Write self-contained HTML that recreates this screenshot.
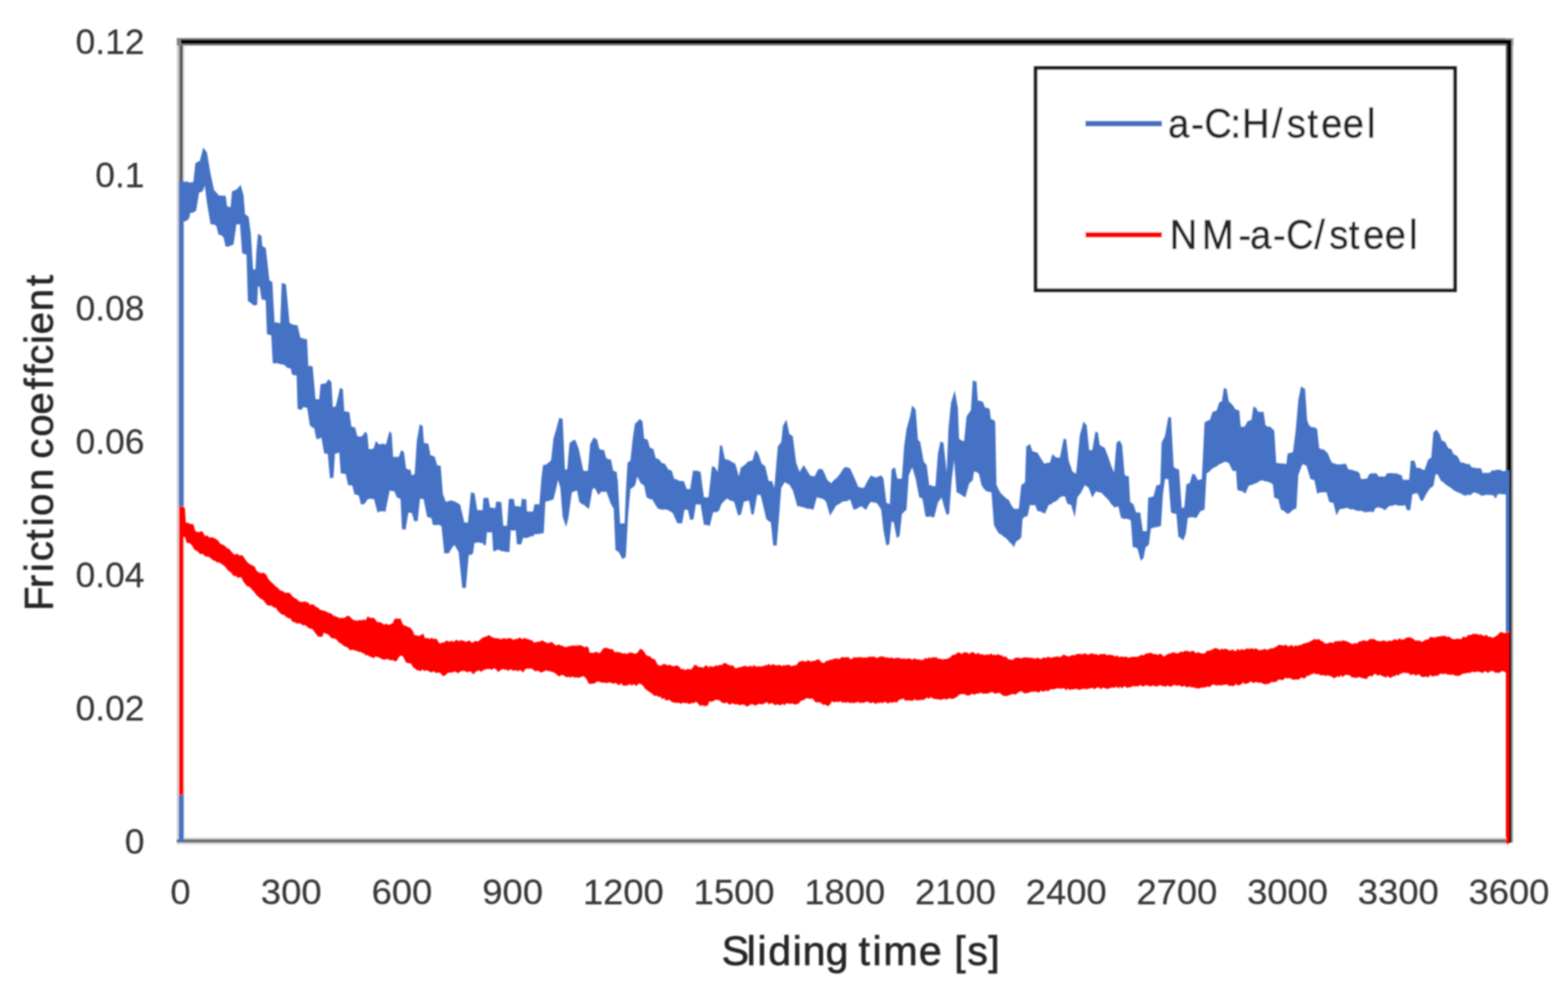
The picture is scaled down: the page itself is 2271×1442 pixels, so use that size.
<!DOCTYPE html>
<html><head><meta charset="utf-8"><title>Friction coefficient vs sliding time</title>
<style>
html,body{margin:0;padding:0;background:#fff;}
body{width:2271px;height:1442px;overflow:hidden;}
svg{display:block;}
text{font-family:"Liberation Sans",Arial,sans-serif;fill:#262626;stroke:#262626;stroke-width:0.9px;}
#y-ticks text,#x-ticks text{fill:#383838;stroke:#383838;stroke-width:0.3px;}
</style></head><body>
<svg width="2271" height="1442" viewBox="0 0 2271 1442">
<defs><filter id="soft" x="0" y="0" width="2271" height="1442" filterUnits="userSpaceOnUse"><feGaussianBlur stdDeviation="1.0"/></filter></defs>
<rect width="2271" height="1442" fill="#fff"/>
<g filter="url(#soft)">
<g id="frame">
<rect x="256" y="57" width="11" height="1163" fill="#d4d4d4"/>
<rect x="259" y="57" width="6" height="1163" fill="#8a8a8a"/>
<rect x="261.5" y="57" width="2.5" height="1163" fill="#3a3a3a"/>
<rect x="256" y="1212.5" width="1930" height="10" fill="#d8d8d8"/>
<rect x="256" y="1215" width="1930" height="5" fill="#707070"/>
<rect x="256" y="55" width="1936" height="11" fill="#858585"/>
<rect x="2181" y="55" width="10.5" height="1165" fill="#a8a8a8"/>
<rect x="2181" y="58" width="2.6" height="1162" fill="#5a5a5a"/>
<rect x="262" y="57.5" width="1927" height="6" fill="#050505"/>
<rect x="2183.2" y="57.5" width="6" height="1162.5" fill="#050505"/>
</g>
<g id="series-a-C-H">
<polygon fill="#4472c4" points="262.5,262.4 267.5,263.5 270.6,262.6 273.8,264.3 276.9,264.1 280,263.5 283,236.4 286.1,234.3 289.3,233.3 294.5,213.5 299.7,220.8 305,252 310,275 313.7,279.1 317.4,283.2 320.5,283.1 323.7,283.6 326.8,283.2 328.9,298.8 334,300 336,277 340.2,275.6 344.5,272.8 348.6,267.6 352.8,283.2 354.9,310.3 360,313.4 363.2,337.3 366.5,390 370,390 371.5,362.3 373.6,338.4 378.8,341.5 379.8,356 385,359.2 390.2,406 394.4,408 397.7,467 401.8,466.7 405.9,468.4 408,410.2 411.1,410.1 414.2,412.2 419.4,467.4 423.5,469.8 427.7,470.5 431,471.3 435.2,489.3 438.3,489.6 441.5,490.9 444.6,490.7 446.6,530.3 449.8,529.6 452.9,531.3 457,578.1 462.3,578.1 464.3,556.3 468,555.6 471.6,555.2 475.8,549 480,553.2 482,589.6 486.2,588.5 489.3,575.5 492.4,561.5 496.6,563.6 498.7,595.8 502.4,595.7 506,596.9 509,617.7 514.3,618.7 517.4,631.2 521,632.3 524.7,631.2 528.8,625 532,628.1 534,649.9 537.6,650.4 541.3,648.9 544.4,638.5 549.6,643.7 552.7,642.6 555.9,642.6 559,643.7 564.2,623.9 567.3,628.1 569.4,661.4 573.5,661.5 577.7,661.4 580.9,652 585,654.1 588.1,678 591.2,680.1 594.4,680.1 596.5,688.4 600.6,686.3 603.7,638.5 607.9,614.5 612.1,616.6 614.1,641.6 617.2,641.8 620.4,642.6 623.5,659.3 626.6,659.7 629.7,661.4 633.1,673.4 638.3,674.4 641.4,715 645.6,726.4 649.1,725.8 652.5,724.5 656,725.3 659.5,726.4 662.9,728.6 666.4,730.5 669.5,743.5 672.6,756.5 677.8,756.5 682,712.9 687.2,713.9 691.3,738.9 695.1,738.3 699,738.9 700,721.6 703.6,720.5 707.2,720.7 709.9,735.1 713.5,734.9 717.1,736 718.9,726.1 722.5,726.5 726.1,727 728.9,761.2 734.3,761.2 737,722.5 740.6,722 744.2,722.5 746,733.3 750,732.6 754.1,734.2 755.9,721.6 759,722.9 762.2,722.5 763.1,740.5 766.1,740.6 769.1,740.8 772.1,740.5 773.9,730.6 777.5,729.8 781.2,730.6 784.1,693.1 786.6,673.2 790,673.1 793.3,670.7 798.2,666.5 801.6,634.9 805.8,620.8 809.9,605 814.9,606.6 818.2,679.8 821.5,679.8 824.9,641.6 829,638.2 833.2,636.6 838.2,649.9 841.5,665.3 844.8,681.5 848.1,682 851.5,681.5 854.8,643.2 859.8,633.2 864.8,636.6 868.1,649.9 871.5,651.2 874.8,651.5 878.1,663.2 881.5,665.1 884.8,664.9 888.1,681.5 893.1,683.2 894.8,696.5 898.1,758 901.4,757.8 904.7,758 906.4,713.1 908.9,669.9 913.1,666.5 916.4,634.9 919.7,613.3 923,610.7 926.4,606.6 930.5,610 933,634.9 938,636.6 941.3,648.2 946.3,649.9 949.7,663.2 954.7,664.9 958,669.9 963,671.5 968,679.8 973,681.5 976.3,693.1 981.3,694.8 984.6,696.5 990.4,696.5 994.6,708.1 999.6,708.1 1003.7,681.5 1009.6,681.5 1014.6,683.2 1019.5,719.8 1022.9,720.2 1026.2,719.8 1031.2,674.8 1035.4,676.5 1039.5,683.2 1042.8,644.9 1045.8,644.9 1050,664.9 1053.3,665.2 1056.6,666.5 1060.8,669.2 1065,671.5 1070,689.8 1073.3,676.5 1076.6,674.7 1080,671.8 1083.3,668.2 1086.6,667.4 1089.9,666.5 1094.1,651.5 1098.2,656.5 1103.2,671.5 1108.2,674.8 1113.2,696.5 1118.2,696.5 1121.5,706.5 1126.5,646.6 1131.5,639.9 1134,616.6 1139,607.5 1143.2,628.3 1148.2,631.6 1153.1,669.9 1158.1,683.2 1164,673.2 1168.1,679.8 1173.1,688.2 1176.4,689.2 1179.8,689.8 1184.8,679.8 1188.1,678.7 1191.4,679.8 1194.8,686.7 1198.1,694.8 1203.9,699.8 1208.1,694.8 1212.2,691.4 1216.4,686.5 1219.7,681.3 1223,676.5 1227.2,676.6 1231.3,678.2 1234.7,685.8 1238,693.1 1243,704.8 1247.2,706.1 1251.3,706.5 1256.3,696.5 1261.3,688.2 1265.4,690.3 1269.6,691.5 1272.9,689.5 1276.3,688.2 1279.6,693.1 1283.8,728.1 1288.8,729.8 1291.3,679.8 1296.2,676.5 1299.6,693.1 1302.9,693 1306.2,693.1 1309.5,646.6 1312.9,621.6 1317.9,603.3 1321.2,586.7 1326.2,593.3 1329.5,636.6 1332.8,639.9 1337.8,668.2 1342.2,673.4 1345.8,702.2 1348.8,702.8 1351.8,704.1 1354.8,704 1358.4,657.2 1362,639.2 1366.5,641 1371.1,684.2 1373.8,619.3 1377.4,583.3 1382.8,565.2 1387.3,590.5 1389.1,635.5 1392.7,637.4 1396.3,639.2 1399.9,603.1 1403.1,598.3 1406.2,594.1 1408.9,550.8 1414.3,552.6 1416.1,579.7 1419.7,580.6 1423.3,581.5 1426.9,590.5 1430.1,590.3 1433.3,592.3 1435.1,606.7 1438.2,607.4 1441.4,610.3 1443.2,702.2 1448.6,713.1 1454,718.5 1457.6,721.7 1461.2,723.9 1464.8,731.4 1468.4,736.5 1472,736.7 1475.6,736.5 1479.2,702.2 1484.6,698.6 1486.4,646.4 1491.8,642.8 1495.4,653.6 1499.1,654.2 1502.7,655.4 1508.1,664.4 1512.6,671.6 1516.7,669.9 1520.7,669.8 1524.3,657.2 1529.7,662.6 1535.1,662.6 1540.5,635.5 1544.1,635.5 1547.7,666.2 1553.1,682.4 1558.5,686 1564,630.1 1569.4,610.3 1573.9,615.7 1577.5,651.8 1582,651.8 1586.5,624.7 1590.1,626.5 1592.8,644.6 1596.4,646.4 1600,648.2 1605.4,662.6 1609.5,674.6 1613.5,684.2 1617.1,641 1621.6,637.4 1625.2,644.6 1628.9,687.8 1631.9,689.3 1634.9,689.5 1636.8,726.4 1641.7,730.3 1645.5,742 1651.4,742 1655.2,769.1 1661.1,769.1 1663,720.6 1666.9,719.7 1670.8,718.6 1674.7,703.1 1680.5,701.2 1682.4,641 1687.3,631.3 1692.1,604.1 1696,604.1 1699.9,675.9 1703.8,678.7 1707.7,679.8 1711.6,736.1 1715.4,734.2 1718.3,701.2 1723.2,699.2 1727.1,685.6 1731,687.6 1734.9,695.3 1740.7,693.4 1744.6,611.8 1748.4,609.3 1752.3,608 1756.2,596.3 1762,594.4 1765.9,582.7 1769.8,580.8 1772.7,561.4 1776.6,563.3 1779.5,580.8 1785.3,586.6 1789.2,592.4 1795,594.4 1797,617.7 1802.8,617.7 1806.7,609.9 1812.5,608 1815.4,588.5 1819.3,590.5 1822.2,596.3 1826.1,596.3 1830,596.3 1832.9,615.7 1836.3,617.8 1839.7,617.7 1845.5,623.5 1848.4,670.1 1852.1,670.8 1855.7,671 1859.3,671 1863,672 1865,656.5 1868.8,655.7 1872.7,654.6 1876.6,623.5 1880.5,578.8 1884.4,559.4 1890.2,563.3 1893.1,608 1896,615.7 1899.9,618.8 1903.8,618.4 1907.7,621.6 1910.6,648.7 1914,650.4 1917.4,650.7 1923.2,656.5 1928,668.5 1931.1,670.8 1934.2,671.6 1937.2,672.5 1940.3,672.2 1943.3,672.3 1946.4,671.6 1949.4,671.6 1952.5,679.2 1956.3,680.1 1960.1,680.7 1963.2,682.1 1966.2,682.7 1969.3,685.3 1970.8,692.9 1973.8,693.8 1976.9,693.1 1979.9,692.9 1983,686.8 1986,685.3 1989.1,685.3 1993.7,685.3 1996.7,689.9 1999.8,689.9 2002.8,689.9 2005.9,689.9 2008.9,685.3 2012.4,685 2015.8,684.9 2019.2,685.4 2022.7,685.3 2026.5,687.1 2030.3,688.3 2031.8,694.5 2034.9,694.8 2037.9,694.4 2041,694.5 2043.3,667 2048.6,667 2051.7,677.7 2055.5,677.3 2059.3,679.2 2063.1,680.7 2068.4,665.5 2073,662.4 2076.1,625.8 2080.7,622 2085.2,628.8 2088.3,638 2092.9,639.5 2097.4,648.7 2102,650.2 2105.1,657.8 2108.1,658.7 2111.2,660.9 2115.8,670 2118.9,669.6 2121.9,671 2124.9,672.1 2128,671.6 2131,676.1 2134.4,677.2 2137.8,677.6 2141.3,678.1 2144.7,677.7 2147.8,685.3 2151.4,684.2 2154.9,685.1 2158.5,683.8 2161.5,680.7 2164.6,681.3 2167.8,680.1 2170.9,680.2 2174.1,680.4 2177.2,682.4 2180.4,681.4 2183.5,682.2 2183.5,715.8 2179.9,715.7 2176.3,715.8 2172.8,715.1 2169.2,715.8 2166.1,721.9 2163.1,717.3 2160,716.7 2157,716.5 2153.9,716.3 2150.8,716.7 2147.8,717.8 2144.7,717.3 2141.7,714.9 2138.6,714.1 2135.6,712.8 2132.6,713.9 2129.5,717.3 2126.4,716.1 2123.4,717.4 2120.3,717.3 2117.3,715.6 2114.2,713.7 2111.2,712.8 2108.1,711.3 2105.1,709.5 2102,706.7 2099,705 2095.9,702.9 2092.9,700.6 2089.9,697.7 2086.8,696 2082.2,686.8 2079.1,686.8 2076.1,703.6 2071.5,706.7 2068.4,711.1 2065.4,715.8 2060.8,725 2057.8,725 2053.2,714.3 2049.4,714.4 2045.6,715.8 2042.5,738.7 2037.9,738.7 2034.9,731.1 2031.8,732.3 2028.8,732.1 2025.7,732.3 2022.7,731.1 2019.6,731.1 2016.6,732.4 2013.5,732.1 2010.5,734.1 2005.9,738.7 2001.3,735.7 1998.2,734.9 1995.2,734.6 1992.1,735.7 1989.1,741.8 1985.5,740.7 1982,740.9 1978.4,741.8 1975.3,741.3 1972.3,739.4 1969.2,739.7 1966.2,739.6 1963.1,738.7 1959.6,737.1 1956,737.8 1952.5,735.7 1949.5,735.2 1946.4,736.5 1943.3,736.6 1940.3,737.2 1935.7,746.3 1931.1,728 1928.1,727.4 1925.1,726.4 1921.3,712.8 1915.4,712.8 1911.6,712.9 1907.7,714.8 1903.8,695.3 1898,693.4 1892.1,674 1886.3,672 1880.5,687.6 1877.6,736.1 1872.7,738.1 1868.8,741.9 1865,743.9 1861.7,741.8 1858.5,739.1 1855.2,738.1 1851.4,722.5 1845.5,720.6 1843.6,701.2 1839.7,698.8 1835.8,697.3 1831.9,696.7 1828.1,695.3 1824.2,696.6 1820.3,699.2 1816.4,700.4 1812.5,702.3 1808.6,703.1 1803.8,714.8 1798.9,710.9 1795.5,710.8 1792.1,708.9 1790.2,681.7 1785.3,681.7 1779.5,670.1 1773.7,668.2 1769.8,670.7 1765.9,672 1762.7,674.9 1759.4,676.5 1756.2,677.9 1751.8,682.4 1747.5,685.6 1744.6,738.1 1738.7,740 1732.9,749.7 1729.8,749.6 1726.6,748.6 1723.5,749.3 1720.3,749.7 1717.4,773 1713.5,782.7 1710.1,778.9 1706.7,776.9 1703.8,743.9 1699.9,743.5 1696,741.9 1692.1,693.4 1687.3,693.4 1684.4,714.8 1681.5,761.4 1678.1,762.6 1674.7,763.3 1670.8,763.9 1666.9,765.2 1664,788.5 1659.1,792.4 1656.2,808 1652.3,811.8 1647.5,794.4 1644.1,792.3 1640.7,792.4 1637.8,753.6 1633.9,751.5 1630,751 1626.7,751.2 1623.4,749.1 1619.8,732.9 1614.4,734.7 1609,729.3 1605.4,723.7 1601.8,720.3 1598.2,716.4 1594.6,713.1 1591,712.7 1587.4,711.3 1582,720.3 1576.6,705.9 1571.2,702.2 1565.8,713.1 1560.3,720.3 1556.7,749.1 1551.3,731.1 1545.9,729.3 1542.3,718.5 1538.7,718.6 1535.1,720.3 1529.7,725.7 1526.1,726.7 1522.5,730.1 1518.9,731.1 1513.5,743.7 1509.9,741.9 1506.3,740.2 1502.7,740.1 1499.1,731.1 1495.4,731.7 1491.8,731.1 1488.2,747.3 1484.6,748 1481,750.9 1479.2,778 1475.6,781.8 1472,783.4 1468.4,792.4 1465.4,787.8 1462.4,785.6 1459.4,781.6 1456.2,778.6 1453.1,776.8 1450,773.7 1446.8,772.6 1443.2,766.8 1439.6,759.9 1436,713.1 1432.3,712 1428.7,711.3 1425.1,707.7 1421.5,702.2 1417.9,686 1414.3,683.5 1410.7,682.4 1408.9,695 1403.5,700.4 1398.1,720.3 1392.7,716.7 1389.1,714.3 1385.5,713.1 1381.9,666.2 1378.3,695 1374.7,743.7 1371.1,745.5 1367.4,733.7 1363.8,720.3 1358.4,727.5 1353,749.1 1349.8,748.7 1346.7,747.3 1343.6,748.7 1340.4,747.3 1336,722 1331.2,719.8 1326.2,693.1 1321.2,676.5 1316.2,688.2 1312.9,738.1 1309.6,740.7 1306.2,744.7 1302.9,776.3 1298.7,778.8 1294.6,756.4 1291.3,754.7 1287.9,788 1283.8,789.7 1279.6,768 1276.3,738.1 1272.9,732.6 1269.6,728.1 1265.4,727.6 1261.3,726.4 1257.9,731.2 1254.6,738.1 1251.3,736.2 1248,733.1 1244.7,734 1241.3,736.4 1236.3,738.1 1231.3,723.1 1227.4,725.2 1223.6,725.8 1219.7,726.4 1215.6,729.7 1211.4,731.4 1206.4,739.7 1202.2,746.4 1196.4,726.4 1193.1,722.9 1189.7,721.4 1186.4,720.9 1183.1,719.8 1178.1,738.1 1173.1,736.4 1168.9,736.6 1164.8,734.7 1161.5,734.2 1158.1,732.9 1154.8,733.1 1151.5,721 1148.2,709.8 1143.2,701.5 1139.8,700 1136.5,698.1 1131.5,706.5 1128.2,749.7 1124.9,789.7 1119.9,789.7 1116.5,756.4 1113.2,754.3 1109.9,751.4 1105.8,733.9 1101.6,716.4 1096.6,716.4 1091.6,744.7 1088.3,744.7 1084.9,724.8 1081.2,725.6 1077.4,726.4 1073.3,744.7 1069.1,746.4 1063.3,726.4 1060,725.2 1056.6,724.2 1053.3,721.4 1049.2,725.1 1045,729.8 1041.2,739.7 1037.1,741.5 1032.9,741.4 1027.9,761.4 1023.7,760 1019.5,759.7 1014.6,729.8 1011.2,730.8 1007.9,729.8 1004.6,751.4 999.6,753 996.3,738.1 991.3,738.1 987.9,758 984.6,757.2 981.3,758 978,751 974.6,743.1 970.5,740.2 966.3,738.1 963,737.4 959.6,738.1 956.3,737.2 953,736.4 948.9,730.3 944.7,723.1 940.5,722.5 936.3,719.8 933,703.1 928,699.8 923,689.8 919.7,703.1 916.4,705.8 913.1,708.1 909.7,746.4 906.4,806.3 901.4,809.6 896.4,799.6 891.4,796.3 888.9,736.4 884.8,729.8 881.5,720.5 878.1,711.4 874.8,712.4 871.5,711.4 866.5,716.4 861.5,706.5 858.1,708.1 853.2,736.4 849.7,734.8 846.1,731 842.5,729.7 839,726.4 835.7,709.8 832,711.5 828.2,713.1 823.2,749.7 819.9,763 814.9,748.1 811.6,706.5 808.2,694.8 804.9,710 801.6,723.1 797.7,724.2 793.8,725.4 789.9,726.4 787.5,772.1 784.3,772.2 781.1,773.1 778,773.4 774.8,773 772.1,776.6 768.5,776.2 764.9,778.6 761.3,779.1 757.7,778.4 755,788.3 751.9,787.9 748.7,788.3 746.9,767.5 743.3,768.2 739.7,767.5 737.9,799.1 733.8,799.3 729.8,798.2 725.7,797.8 721.6,795.5 718,797.4 714.4,798.2 712.6,770.3 709,771 705.4,770.3 703.6,789.2 700,789.2 699.7,785.7 696.6,786.6 693.5,784.9 690.3,786.1 687.2,785.7 685.1,801.3 682,803.5 678.9,803.3 674.7,851.2 669.5,851.2 664.3,799.2 661.2,794 658.1,788.8 654,794.2 649.8,801.3 646.6,800.9 643.5,801.3 639.4,761.7 636.3,760.1 633.1,760.1 630,760.3 626.9,759.7 624.8,750.3 621.7,749.3 618.6,748.2 613.4,722.2 608.2,722.2 605,754.5 599.8,754.5 596.7,743 591.5,742 587.4,767 582.2,765.9 580.1,722.2 574.9,720.2 570.7,710.8 567.6,711.2 564.5,709.8 561.4,725.1 558.2,740.9 554.1,739.9 550.5,740.5 546.8,742 541.6,722.2 538.5,722.5 535.3,721.8 532.2,723.3 528.1,729.5 522.9,730.5 519.8,718.1 516.6,715.9 513.5,716 510.4,703.5 507.3,702.4 504.2,702.5 500.7,686.3 497.1,685.7 493.5,685.3 491.4,655.1 488.2,656.3 485.1,657.2 483,691.5 477.9,692.6 474.7,657.2 469.5,656.2 465.4,633.3 461.8,635.4 458.1,635.4 455,619.7 451.9,618.8 448.7,615.6 444.9,590.6 439.3,589.2 436.6,593.4 431,592 429.6,543.4 426.1,543.2 422.7,542 421.3,533.7 415.8,532.3 411.6,528.2 408.3,527.4 405,526.9 401.6,525.7 398.3,526.2 395,525.4 392.9,485.2 389.8,484.8 386.6,483.8 384.8,434.8 378.9,433.6 376,415 373.5,414.8 372.5,441 368.4,442.4 365.3,440.5 362.1,437.7 359,436 357,368.5 353.9,367.9 350.7,366.5 347.6,324.8 342.4,324.8 338.2,354 334.4,355.6 330.6,356.9 326.8,357.1 323.7,343.6 320,340.5 316.4,339.4 313.3,327 309.1,324.8 305,324.8 299.7,293.6 296.6,268.7 293.5,277 288.3,279 284.1,305 280,307.7 275.8,308.2 273.7,316.5 270,319.7 266.4,320.7 262,320"/>
<rect x="259" y="262" width="7" height="958" fill="#4472c4"/>
<rect x="2181" y="681" width="5" height="539" fill="#4472c4"/>
</g>
<g id="series-NM-a-C">
<polygon fill="#ff0000" points="263,733.3 267.7,734.7 269.1,756.9 271.9,756.6 274.6,758.4 277.4,758.5 280.2,759.6 283,769.3 285.8,770 288.6,770.5 291.3,768.8 294.1,770.7 296.9,776.3 300.1,775 303.4,778.4 306.6,777.7 309.8,778.7 313.1,780.4 316.3,783.2 319.8,787.8 323.2,788.8 326,790.5 328.7,793.7 331.5,794.3 334.9,798.2 338.3,802.2 340.8,803 343.3,801.5 345.8,803.5 348.3,804.6 350.8,803.6 354.2,808.5 357.7,813.3 360.5,816 363.3,817.6 366.1,818.8 368.9,820.5 371.6,826.2 374.4,828.5 377.2,829.7 379.9,829.5 382.7,829.4 385.5,832 388.9,838.5 392.4,842.4 395.6,845.1 398.9,848.7 402.1,850.7 404.9,853.9 407.6,855.2 410.4,856.3 413.7,858.7 416.9,857.8 420.2,859.1 423.6,863.6 427.1,866 429.9,867.2 432.6,870.3 435.4,871.5 438.2,871.5 441,870.8 443.7,871.6 446.5,872.6 449.3,876 452,874.8 454.8,875.7 457.6,878.5 460.3,879.6 463.1,882.6 465.9,883.6 468.7,884.1 471.5,884.9 474.2,886.6 477,887.6 479.8,888.2 483,891.5 486.3,892.5 489.5,893.7 492.3,895 495,894.5 497.8,894.8 500.6,893.4 503.3,891.3 506.1,892.3 510.3,896.5 513.1,898 515.8,898.6 518.6,898.6 521.4,897.5 524.2,898.3 526.9,896.7 529.7,897.9 532.5,892.3 535.7,894.4 539,894.4 542.2,895.1 546.4,900.7 549.8,900.6 553.3,902.1 556.1,904.8 559.3,902.8 562.6,905.1 565.8,903.4 568.6,902.4 571.3,896.4 574.1,895.1 576.9,896.2 579.7,895.1 583.8,904.8 587.2,905.9 590.7,907.6 594.2,909.1 597.7,913.1 600.5,920.1 603.3,919.4 606,921.1 608.8,920.1 612.9,917.3 615.7,924.2 620,923.6 622.6,925.5 625.3,923 627.9,925.6 630.6,924 633.2,926.2 635.9,930.9 638.5,931.5 641.2,929.8 643.8,930.2 646.4,926.9 649,928.4 651.7,929 654.3,927.4 657,929.4 659.6,927.1 662.2,926.4 664.9,928.5 667.5,926.6 670.2,927.4 672.8,928.3 675.4,929.2 678.1,927.7 680.7,927.5 683.4,930.7 686,929.5 688.6,927.7 691.3,928.9 694,927.5 696.6,924.9 699.6,923.1 702.5,922.1 705.5,921 708.5,919.6 711.8,922.1 715.1,923.6 717.7,924.1 720.4,924.1 723,924.4 725.7,925.7 728.3,924.3 730.9,924.1 733.6,925.3 736.2,923.7 738.9,924.1 741.5,924.9 744.1,926.6 746.8,925 749.4,925.1 752.1,923.1 754.7,924.6 757.4,925.2 760,923.2 762.7,925.3 765.3,924.9 767.9,927.1 770.6,926.8 773.2,930.2 775.8,930.1 778.5,929 781.1,929.3 783.8,927.6 786.4,927.6 789,929.6 791.7,930.2 794.5,931.6 797.4,929.6 800.2,930.3 803,933.1 805.8,934.7 808.7,932.7 811.5,934.2 814.8,935.3 818.1,936.8 820.9,936.8 823.8,935.4 826.6,935.2 829.5,934.6 832.3,934.5 835.2,934.9 838,934.2 840.9,934.3 843.8,935.3 846.7,937.5 849.6,935.6 852.5,938.1 853.8,944.7 856.4,944.9 859.1,945.5 861.8,944 864.4,943.7 867.1,945.8 869.7,944.7 873.6,938.8 876.2,938 878.9,937.9 881.5,938.9 884.2,940 886.8,939.4 890.8,944.7 893.5,943.4 896.3,944.4 899,944.6 901.8,946.5 904.5,945.3 907.3,946.9 910,945.8 912.6,944.5 915.3,944.9 917.9,945.9 920.6,946.6 923.2,945.1 927.2,939.2 931.1,941.1 933.8,944.9 936.4,949.1 939,949.6 941.7,950.6 944.3,953.5 947,953.7 949.6,956.3 952.3,962.3 955.1,963.4 958,963.5 960.8,961.2 963.7,961.5 966.5,963.4 969.4,962.3 972.3,963.5 975.2,964.7 978.2,963.7 981.1,963.6 984,965.6 986.6,968.9 989.5,968.3 992.4,970.2 995.3,968.4 998.2,968.8 1001.1,969.5 1003.8,965.6 1006.4,962.3 1009.7,964 1013,966.2 1015.6,965.6 1018.3,967.1 1021,964 1023.6,963.2 1026.2,966.2 1028.9,964.3 1031.5,965.3 1034.2,965.3 1036.8,962.9 1039.5,964.3 1042.1,962.3 1045.2,963.2 1048.2,960 1051.3,960.3 1054,962 1056.6,963.2 1059.2,963.4 1061.9,963.6 1064.6,967.6 1067.4,967.2 1070.3,965.9 1073.2,965.7 1076,964.8 1078.8,963.8 1081.7,964.9 1084.4,965 1087,963.7 1089.7,965.4 1092.3,962.5 1095,965.4 1097.6,964.4 1100.2,965 1102.9,964.7 1105.5,964.5 1108.2,962.9 1110.8,963.2 1113.5,961.1 1116.1,963.8 1118.8,961.7 1121.4,962.2 1124,963.5 1126.7,963 1129.3,962.6 1132,964.5 1134.6,962.9 1137.4,963.4 1140.3,962.6 1143.2,962.4 1146,964.7 1148.8,963.4 1151.7,963.6 1154.3,962 1157,958.3 1159.6,957.4 1162.3,956.6 1164.9,957.4 1167.6,958.1 1170.2,955.5 1172.8,957.4 1175.5,957.5 1178.1,956.8 1180.8,956.5 1183.4,955 1186.1,954.4 1188.7,957.8 1191.3,959.8 1194,959.6 1196.8,956.8 1199.6,956.4 1202.3,955.2 1205.1,955 1207.9,953.7 1210.5,953.3 1213.2,953.4 1215.8,954.3 1218.5,951.4 1221.1,951.5 1223.7,951.7 1226.4,951.5 1229,951.2 1231.7,954.4 1234.3,953.8 1237,950.9 1239.6,952.3 1242.2,951.5 1244.9,951.4 1247.5,951.4 1250.2,952.3 1252.8,951.7 1255.3,952 1257.9,951.2 1260.4,950.6 1263,951.1 1265.5,950.3 1268.1,951.9 1270.6,952.5 1273.2,951.3 1275.7,950.2 1278.3,950.5 1280.8,951.2 1283.4,952.1 1285.9,951.7 1288.5,952.9 1291,951.6 1293.6,953.3 1296.2,952.9 1298.7,952.4 1301.3,952.3 1303.9,953 1306.4,953.9 1309,953.1 1311.6,954.2 1314.1,953.6 1316.7,953 1319.3,954.2 1321.8,955 1324.4,952.9 1327,954.4 1329.5,954.5 1332.1,955 1334.7,955.7 1337.4,955.3 1340,952.6 1342.7,953.8 1345.3,951.7 1347.9,952.9 1350.6,951.2 1353.2,952.2 1355.9,951.1 1358.5,953.8 1361.1,953.5 1363.8,954.5 1366.4,954.4 1369.1,954.1 1371.7,953.7 1374.3,953.1 1377,951 1379.6,947.9 1382.3,948.2 1384.9,946.4 1387.6,944.6 1390.2,945 1392.9,947.2 1395.5,944.5 1398.2,944.6 1400.8,944.6 1403.5,947.3 1406.1,944.8 1408.8,944.1 1411.4,945.8 1414,947.2 1416.7,944.8 1419.3,947.6 1422,947.1 1424.6,947.9 1427.2,948.5 1429.9,947.3 1432.5,948.3 1435.2,945.7 1437.8,948.5 1440.4,947.7 1443.1,948.7 1445.7,946.6 1448.4,949.1 1451,948.4 1453.7,951.6 1456.3,950.1 1458.9,952.7 1461.6,955 1464.2,954.8 1466.9,955.4 1469.5,952.8 1472.2,952.2 1474.8,952 1477.4,952.9 1480.1,953 1482.7,951.7 1485.6,951.7 1488.5,951.9 1491.3,952.3 1494.2,952.5 1497.1,953.1 1500,953.7 1502.5,951.9 1505,953.1 1507.5,954.4 1510,952.4 1512.6,951.8 1515.2,952.8 1517.8,950.5 1520.4,952.1 1523,952.1 1525.6,951.6 1528.3,950.8 1530.9,950.4 1533.5,950.8 1536.1,951.4 1538.7,948.5 1541.3,948.1 1543.9,949.3 1546.4,950 1549,950.4 1551.5,948.7 1554,948.2 1556.6,949 1559.1,946.8 1561.7,946.9 1564.2,946.4 1566.7,947.6 1569.3,946.4 1571.8,945.9 1574.3,947.3 1576.9,948.1 1579.4,946.2 1582,945.7 1584.6,947.4 1587.2,946.6 1589.8,948.5 1592.4,947.7 1595,946.8 1597.6,946.9 1600.2,946.5 1602.8,948.4 1605.3,948.3 1607.9,947.7 1610.5,948.7 1613.1,948.8 1615.7,950.7 1618.3,948.6 1620.9,951.9 1623.5,950.3 1626.1,951 1628.7,950.9 1631.3,950.8 1633.8,952.1 1636.4,952.1 1639,951.1 1641.5,950.8 1644.1,950.9 1646.7,950.9 1649.2,950.6 1651.8,948.2 1654.4,948.6 1656.9,948.6 1659.5,946.2 1662.2,946.1 1664.9,945.2 1667.6,945.2 1670.3,947 1673,946.8 1675.7,947.9 1678.4,947.5 1681.1,946.2 1685.7,950.9 1688.8,948.4 1691.9,946.6 1695,946.2 1697.6,944.9 1700.1,944.2 1702.7,945.7 1705.3,945.8 1707.8,945.5 1710.4,942.8 1713,944.6 1715.5,942.2 1718.1,942.4 1720.8,942.5 1723.6,944.1 1726.3,942.2 1729,942.6 1731.8,945.7 1734.5,944.2 1737.2,944.8 1740,946.1 1742.7,946.2 1745.3,945.7 1748,942.2 1750.6,942.3 1753.3,941.6 1755.9,940.6 1758.6,938.6 1761.2,938.5 1763.9,939.2 1766.6,940.9 1769.3,939.3 1772,940.2 1774.7,939.1 1777.4,940 1780.1,941.8 1782.8,941.6 1785.4,939.9 1787.9,942.5 1790.5,942.3 1793.1,939.1 1795.6,941.9 1798.2,939.6 1800.8,940.8 1803.3,940.5 1805.9,938.5 1808.5,939.6 1811,939.3 1813.6,938.5 1816.3,939.9 1818.9,938.3 1821.6,940.4 1824.3,941.4 1827,940.7 1829.7,940.5 1832.3,939.3 1835,941 1837.8,939.9 1840.5,938.4 1843.3,938.7 1846.1,937.5 1848.9,936.1 1851.6,933.7 1854.4,933.8 1857.1,934.5 1859.8,934.6 1862.6,933.2 1865.3,935.9 1868,935.2 1870.7,933.5 1873.5,936.6 1876.2,933.9 1878.9,935.4 1881.6,933.7 1884.3,934 1887,932.1 1889.5,931.6 1892.1,930.7 1894.6,930.2 1897.1,928.7 1899.7,927.4 1902.2,926.1 1904.7,924.9 1907.3,926.4 1909.8,924.8 1912.7,927.5 1915.5,928.6 1918.3,931.1 1921.2,932.1 1923.7,931 1926.3,930.2 1928.8,930 1931.3,931.3 1933.9,927.7 1936.4,928.9 1938.9,927.4 1941.5,928.7 1944,927.2 1946.7,927.5 1949.4,928.2 1952.2,929.3 1954.9,930.6 1957.6,932.3 1960.3,932.1 1962.9,930.9 1965.5,932 1968.1,928.8 1970.7,928.7 1973.3,927.4 1976,926.8 1978.6,928.6 1981.2,927.7 1983.8,925.1 1986.4,925.6 1988.9,924.8 1991.5,926 1994,927.6 1996.5,928.2 1999.1,928.3 2001.6,928.1 2004.1,926.9 2006.7,928.2 2009.2,928.9 2011.7,927.3 2014.2,928 2016.7,927.6 2019.2,925.8 2021.7,925.5 2024.2,926.9 2026.8,923.7 2029.3,926 2031.8,925.8 2034.3,925.5 2036.8,923 2039.3,923.1 2041.8,922.4 2044.5,923.8 2047.2,925 2049.9,927.4 2052.7,927.4 2055.4,927.1 2058.1,928.9 2060.8,929.1 2063.5,926.7 2066.2,926 2069,925.4 2071.7,921.7 2074.4,922.4 2077.1,923.1 2079.8,922.4 2082.6,921.5 2085.3,921.4 2088,920.8 2090.7,920.7 2093.4,920.4 2096.1,922.4 2098.8,921.5 2101.6,924 2104.3,925.3 2107,925.6 2109.5,924.8 2112,924.6 2114.5,925.4 2117,924.5 2119.5,921.2 2122,922.9 2124.5,921.7 2127,919 2129.5,919.5 2132,918.4 2134.5,917.2 2137,918.3 2139.5,917.5 2142.2,919.6 2144.9,918 2147.7,920.5 2150.4,920.4 2153.1,918.9 2155.8,922.1 2158.6,921.7 2161.3,923.4 2164,922.4 2166.7,921 2169.4,918.9 2172.1,915.8 2174.9,915 2177.8,916.5 2180.7,916.8 2183.5,915 2183.5,972.9 2180.9,973.7 2178.4,972.2 2175.8,971.2 2173.2,972.9 2170.7,974.5 2168.1,973.7 2165.5,974.1 2163,971.8 2160.4,971.2 2157.8,971.9 2155.2,974.6 2152.7,972.4 2150.1,971.8 2147.5,974.5 2145,973.6 2142.4,972.4 2139.8,972.3 2137.3,973.3 2134.7,972.9 2131.9,972.5 2129.1,974.6 2126.3,974.1 2123.5,974.7 2120.7,975.2 2117.9,975.4 2115.1,977.8 2112.4,978.5 2109.7,978.6 2107,978.1 2104.3,976.5 2101.5,977 2098.8,976.8 2096.1,976.4 2093.4,975 2090.7,976.1 2088,975.4 2085.3,975.4 2082.5,978.4 2079.8,978.2 2077.1,978.7 2074.4,979.8 2071.6,977.1 2068.9,980.8 2066.2,979.4 2063.6,979.7 2061,980.2 2058.5,979.8 2055.9,976.7 2053.3,976.2 2050.8,978.7 2048.2,976.1 2045.6,976.5 2043,977.5 2040.4,974.7 2037.9,974.3 2035.3,974.5 2032.8,973.5 2030.2,974.9 2027.7,975.5 2025.2,978.3 2022.6,976.4 2020.1,979.6 2017.6,978.4 2015,981.5 2012.5,981 2009.7,978.8 2006.9,981.1 2004.1,979.5 2001.3,978.4 1998.5,976.8 1995.7,978.5 1992.9,976.1 1990.2,975.8 1987.5,979.5 1984.8,978.4 1982,979.2 1979.3,983.3 1976.6,982.6 1973.9,982 1971.3,981.2 1968.6,979.9 1965.9,980.9 1963.3,981.8 1960.6,980.6 1958,981.1 1955.3,978.1 1952.6,977.2 1950,977 1947.3,977.8 1944.7,980.2 1942.1,977.6 1939.5,980.6 1936.9,979 1934.3,981 1931.5,982 1928.7,979.3 1925.9,978.8 1923.1,977.5 1920.3,978.8 1917.5,977.4 1914.7,977.8 1911.8,977.4 1909,975.5 1906.2,976.6 1903.3,974.5 1900.8,976 1898.2,976.3 1895.7,978.7 1893.2,978 1890.6,981.5 1888.1,982.4 1885.6,980.4 1883,982 1880.5,984.3 1877.9,983.6 1875.4,984.1 1872.8,983.9 1870.3,983.1 1867.7,981.2 1865.2,982.8 1862.6,981 1859.9,983 1857.2,984.9 1854.4,983.9 1851.7,983.7 1849,986.8 1846.3,987.5 1843.6,987.5 1840.9,987.6 1838.2,989.9 1835.4,990.1 1832.7,991 1830,990 1827.3,989.1 1824.5,988 1821.8,988.8 1819.1,986.9 1816.3,989 1813.6,987.8 1811,986.5 1808.5,989 1805.9,989.4 1803.3,990.6 1800.8,988 1798.2,990.2 1795.6,991.7 1793.1,992.7 1790.5,989.9 1787.9,992.4 1785.4,993.6 1782.8,992.5 1780.2,993.4 1777.7,990.8 1775.1,991.2 1772.5,991.2 1770,992.4 1767.4,992.1 1764.8,991.9 1762.3,992.6 1759.7,991.7 1757.2,990.7 1754.7,992.1 1752.2,994.9 1749.7,993.7 1747.2,994.5 1744.7,995.3 1742.2,995.6 1739.7,995.5 1737,996.7 1734.3,996.6 1731.6,996.4 1728.9,994.8 1726.3,995.7 1723.7,993.7 1721.2,994.5 1718.6,995.2 1716,992.8 1713.4,993.8 1710.9,994.3 1708.3,991.9 1705.7,992.5 1703.2,993.1 1700.7,991 1698.2,993.1 1695.7,994.3 1693.2,993.5 1690.7,992.3 1688.2,994.6 1685.7,993.2 1683.1,993.5 1680.5,991.5 1677.8,993.1 1675.2,993.8 1672.6,993.7 1670,991.9 1667.4,993.7 1664.7,993.5 1662.1,992.6 1659.5,991.7 1656.8,993.8 1654,993.6 1651.3,991.6 1648.6,993.9 1645.8,993.3 1643.1,994 1640.4,993.1 1637.6,995.6 1634.9,994.8 1632.4,996.2 1629.8,993.8 1627.3,994 1624.8,997 1622.3,993.8 1619.7,997 1617.2,994.1 1614.7,995.6 1612.2,995.6 1609.6,995.5 1607.1,996.3 1604.6,997.6 1602.1,997 1599.6,996 1597,995.6 1594.5,997.9 1592,995.4 1589.5,995 1587,996.6 1584.5,997.9 1581.9,995.5 1579.4,996.8 1576.9,997 1574.4,997.7 1571.9,997.6 1569.4,997.1 1566.8,997.8 1564.3,998.4 1561.8,998.7 1559.3,997.1 1556.7,997.8 1554.2,998.1 1551.6,998.1 1549,998.9 1546.5,996.8 1543.9,999.5 1541.3,996.2 1538.8,996.5 1536.2,997.3 1533.6,996.4 1531.1,996.7 1528.5,997.1 1525.9,998.5 1523.4,997.6 1520.8,998.6 1518.2,1000.7 1515.5,999.7 1512.9,1000.6 1510.2,1001.4 1507.6,999.6 1504.9,1002.9 1502.3,1001.7 1499.2,1001.3 1496.2,1001.4 1493.1,1001.4 1490,1003 1487.5,1003.6 1485,1003.7 1482.4,1003.5 1479.9,1000.6 1477.4,1001.2 1474.1,1002.7 1470.8,1005.9 1468,1004.4 1465.1,1005.2 1462.3,1006.3 1459.5,1007.4 1456.7,1007.7 1453.8,1007.6 1451,1005.9 1448.4,1003.5 1445.7,1003.1 1443.1,1003.9 1440.4,1004.3 1437.8,1001.9 1435.2,1001.9 1432.5,1003.4 1429.9,1004.2 1427.2,1004.1 1424.6,1004.5 1422,1003.5 1419.5,1002.9 1417,1004.5 1414.4,1004.1 1411.8,1006.1 1409.3,1004.7 1406.8,1004.8 1404.2,1006.7 1401.7,1007.2 1399.1,1006 1396.5,1005 1394,1004.7 1391.5,1005.1 1388.9,1005.9 1384.9,1009.8 1382.1,1010.9 1379.2,1012 1376.4,1011.3 1373.6,1011 1370.8,1013.3 1367.9,1011.4 1365.1,1012.5 1362.3,1013.4 1359.5,1012.2 1356.7,1012.4 1353.9,1011.8 1351.1,1011.4 1348.3,1009.1 1345.5,1011.8 1342.7,1009.8 1340,1011.7 1337.4,1013.4 1334.8,1013.1 1332.1,1013.8 1329.5,1013.7 1326.8,1013.8 1324.2,1012.2 1321.5,1014.9 1318.9,1014.3 1316.3,1014.1 1313.6,1014.1 1311,1014.4 1308.3,1010.9 1305.7,1012.5 1302.4,1013.1 1299.1,1017.1 1296.6,1016.4 1294,1016.6 1291.5,1017.8 1288.9,1016.2 1286.4,1018.9 1283.8,1017.1 1281.3,1016 1278.7,1018 1276.2,1017 1273.6,1017.9 1271.1,1017.2 1268.5,1019.2 1266,1017.8 1263.5,1016.6 1260.9,1018.8 1258.4,1016.4 1255.8,1016.1 1253.3,1016.2 1250.8,1018.1 1248.2,1016.9 1245.7,1018.3 1243.2,1016 1240.6,1017.1 1238.1,1017.6 1235.5,1018.2 1233,1017.1 1230.5,1018.2 1228,1016 1225.4,1018 1222.9,1016.3 1220.4,1017.7 1217.9,1015.3 1215.4,1016.2 1212.9,1016.3 1210.3,1015.9 1207.8,1017 1205.3,1015.1 1200.6,1021.7 1197.8,1021.9 1194.9,1019.7 1192.1,1020.7 1189.3,1017.8 1186.5,1016.4 1183.6,1017.1 1180.8,1016.4 1176.8,1011.1 1173.7,1011.9 1170.7,1011.1 1167.6,1011.1 1164.9,1013.1 1162.3,1014.1 1159.7,1014.8 1157,1018.4 1154.4,1019.3 1151.7,1020.2 1149.1,1019.1 1146.5,1018.5 1143.8,1019.3 1141.2,1018.2 1138.5,1018.5 1135.9,1021.2 1133.3,1018.8 1130.6,1021.3 1128,1020.4 1125.2,1019.7 1122.3,1020.9 1119.5,1018.6 1116.7,1017.8 1113.9,1019.9 1111,1016.6 1108.2,1017.8 1105.6,1019.2 1102.9,1020 1100.3,1018.9 1097.6,1019.6 1095,1021.4 1092.3,1020.8 1089.7,1019.4 1087,1019.8 1084.4,1021.7 1081.8,1023.1 1079.1,1021.1 1076.5,1019.9 1073.8,1019.9 1071.2,1021.3 1068.5,1019.6 1065.9,1019.7 1063.3,1019.6 1060.6,1017.7 1058,1020.1 1055.3,1019.8 1052.7,1016.6 1050,1018.2 1047.4,1017.8 1044.8,1016.8 1042.1,1013.8 1039.2,1013.6 1036.3,1013 1033.4,1015 1030.5,1016.2 1027.6,1015.1 1024.9,1021.7 1022.3,1021.8 1019.7,1022.4 1017,1020.5 1014.4,1022.4 1010.4,1017.8 1007.8,1016.1 1005.1,1017.9 1002.5,1017.7 999.8,1018.8 997.2,1019.2 994.6,1017.2 991.9,1018.4 989.3,1016.7 986.6,1019.2 984,1017.8 981.1,1017.3 978.3,1017.8 975.4,1016.8 972.5,1016.2 969.7,1013.1 966.8,1013.8 964.2,1014.2 961.5,1010.2 958.9,1012.6 956.2,1008.3 953.6,1009.2 951,1006.7 948.3,1007.7 945.6,1005.6 943,1003.2 939.9,1001.2 936.9,999.3 933.8,996.6 931.1,992.5 928.5,990.7 925.9,989.3 923.2,991.7 920.6,992.9 917.9,990.1 915.3,993.1 912.6,990.2 910,992 907.4,992.2 904.8,992.9 902.3,992.6 899.7,989 897.1,991.8 894.5,991.3 891.9,988.6 889.4,989.7 886.8,989.2 884.2,988.3 881.4,988.2 878.5,989.1 875.7,988.3 872.9,988.6 870.1,987.9 867.2,986.6 864.4,987 861.4,989.2 858.5,989.7 855.5,990.3 852.5,989.6 849.9,984 847.2,980.4 844.6,978.8 841.9,980.1 839.3,980.9 836.6,981 834,980.4 831.3,981.1 828.7,979.2 826,981.2 823.4,979.6 820.7,980.8 818.1,979.1 815.5,977.2 812.9,977.2 810.2,979.5 807.6,977.8 804.5,975.1 801.4,973.2 798.3,972.5 795.7,971.5 793,971.5 790.4,970.6 787.8,972.2 785.1,973.3 782.5,973.4 779.9,971.1 777.2,971.6 774.6,971.8 771.9,969.2 769.2,967.4 766.6,968.5 763.9,967.7 761.3,968.5 757.4,973.8 754.7,970.5 752.1,970.4 749.4,972.1 746.8,970 744.2,971.2 741.5,970.3 738.9,968.8 736.2,971.8 733.6,969.1 731,969.9 728.3,968.2 725.7,969.8 721.7,973.1 717.8,968.5 715.2,967.6 712.5,969.9 709.9,968.4 707.2,968.4 704.6,968.7 701.9,969.6 699.3,970.8 696.6,973.1 694,970.3 691.3,971.4 688.7,972.5 686,976.4 682.1,972.5 679.5,972.1 676.8,973.8 674.2,971.7 671.5,971.3 668.9,971.3 666.2,972.6 663.6,975 660.9,973 658.3,972.3 655.6,973.5 653,973.8 650,973.8 647,975.4 644.1,978.4 641.1,978.4 637.2,973.8 634.3,973.8 631.5,974.5 628.6,972.1 625.7,973 622.9,973.2 620,971.1 617.1,970.5 614.3,971.4 611.8,969.1 609.3,971.9 606.8,970.6 604.3,970.8 601.8,968.6 598.3,965.9 594.9,960.3 591.5,960.3 588,958.9 583.8,950.6 581,949 578.3,950.6 574.1,957.5 571.3,956.9 568.6,955.4 565.8,956.1 563,955 560.2,954.1 557.5,954.9 554.7,954.9 551.9,953.4 549.1,952 546.4,950.9 543.6,950.6 540.8,953 538.1,951.3 535.3,950.6 532.5,948.6 529.8,948.7 527,945.9 524.2,945 521.7,943.5 519.1,944.1 516.5,941.9 514,942 511.4,940.5 508.9,940.9 506.4,941.3 503.9,937.6 501.4,936.7 498.9,935.5 496.4,934 493.6,931.2 490.9,930.5 488.1,926.5 485.4,924.5 482.6,924.2 479.8,923.7 477,920.2 474.3,918 471.5,917.3 468.7,915.9 467.3,921.5 463.9,921.9 460.4,921.5 457.6,917.5 454.9,914.1 452.1,910.4 449.3,910.3 446.6,909 443.8,906.5 441,904.8 438.2,905.5 435.4,902.4 432.7,902.5 429.9,902.8 427.1,900.7 423.9,900.4 420.6,895.5 417.4,895.1 414.6,893.3 411.9,890.5 409.1,889.9 406.3,888.2 402.8,884.7 399.3,879.9 396.1,879.3 392.8,876.5 389.6,877.1 386.8,875.7 384.1,872.8 381.3,868.8 378.1,867.3 374.8,864.6 371.6,861.8 368.1,857 364.7,853.5 361.5,849.6 358.2,849 355,845.2 352.2,841.5 349.4,835.5 346.6,836.3 343.9,836.3 341.1,833.4 338.3,834.1 335.5,829.9 332.8,827.4 330,825.8 326.6,821 323.2,817.9 320.4,816.6 317.6,814.1 314.9,814.7 312.1,812.3 308.6,811.3 305.2,808.2 301,805.4 298.2,806.2 295.4,803.6 292.7,801.7 289.9,802.6 287.1,799.1 284.4,797.6 281.6,795.7 277.4,788.8 273.9,786 270.5,786 267.7,777.7 264.9,777.9 262,780"/>
<rect x="259" y="733" width="7" height="418" fill="#ff0000"/>
<rect x="2181" y="915" width="5" height="307" fill="#ff0000"/>
</g>
<g id="legend">
<rect x="1500" y="98.5" width="607.3" height="321.7" fill="#fff" stroke="#1e1e1e" stroke-width="5.2"/>
<line x1="1572" y1="179" x2="1683" y2="179" stroke="#4472c4" stroke-width="8.2"/>
<line x1="1572" y1="340" x2="1683" y2="340" stroke="#ff0000" stroke-width="8.2"/>
<text transform="scale(0.92,1)" x="1838.8 1875.4 1895.9 1936.9 1955.2 2002.5 2025.8 2058.2 2079.9 2113.9 2152" y="199" font-size="60">a-C:H/steel</text>
<text transform="scale(0.92,1)" x="1841.7 1892 1949.6 1968 2004.2 2024.7 2069 2092.7 2123.3 2145.9 2179.9 2218.1" y="360" font-size="60">NM-a-C/steel</text>
</g>
<g id="y-ticks" font-size="49.5" text-anchor="end">
<text transform="translate(209.3,78.3) scale(1.035,1)">0.12</text>
<text transform="translate(209.3,271.2) scale(1.035,1)">0.1</text>
<text transform="translate(209.3,464.1) scale(1.035,1)">0.08</text>
<text transform="translate(209.3,656.9) scale(1.035,1)">0.06</text>
<text transform="translate(209.3,849.8) scale(1.035,1)">0.04</text>
<text transform="translate(209.3,1042.7) scale(1.035,1)">0.02</text>
<text transform="translate(209.3,1235.6) scale(1.035,1)">0</text>
</g>
<g id="x-ticks" font-size="49.5" text-anchor="middle">
<text transform="translate(261.5,1308.8) scale(1.065,1)">0</text>
<text transform="translate(421.8,1308.8) scale(1.065,1)">300</text>
<text transform="translate(582.2,1308.8) scale(1.065,1)">600</text>
<text transform="translate(742.5,1308.8) scale(1.065,1)">900</text>
<text transform="translate(902.8,1308.8) scale(1.065,1)">1200</text>
<text transform="translate(1063.2,1308.8) scale(1.065,1)">1500</text>
<text transform="translate(1223.5,1308.8) scale(1.065,1)">1800</text>
<text transform="translate(1383.8,1308.8) scale(1.065,1)">2100</text>
<text transform="translate(1544.2,1308.8) scale(1.065,1)">2400</text>
<text transform="translate(1704.5,1308.8) scale(1.065,1)">2700</text>
<text transform="translate(1864.8,1308.8) scale(1.065,1)">3000</text>
<text transform="translate(2025.2,1308.8) scale(1.065,1)">3300</text>
<text transform="translate(2185.5,1308.8) scale(1.065,1)">3600</text>
</g>
<text x="1045.2 1081.5 1097.1 1112.8 1147.9 1162.6 1195.8 1228.9 1243.4 1263.7 1279.4 1330.8 1363.9 1382.1 1400.9 1431.5" y="1396.8" font-size="59.5">Sliding time [s]</text>
<text transform="translate(76.3,0) rotate(-90)" x="-884.6 -851.6 -828.3 -812.5 -782.5 -761.9 -746.9 -710.7 -678.4 -664 -632.3 -600.3 -564.1 -544.1 -528.1 -497.9 -484.1 -450.4 -414.3" y="0" font-size="58">Friction coeffcient</text>
</g>
</svg>
</body></html>
